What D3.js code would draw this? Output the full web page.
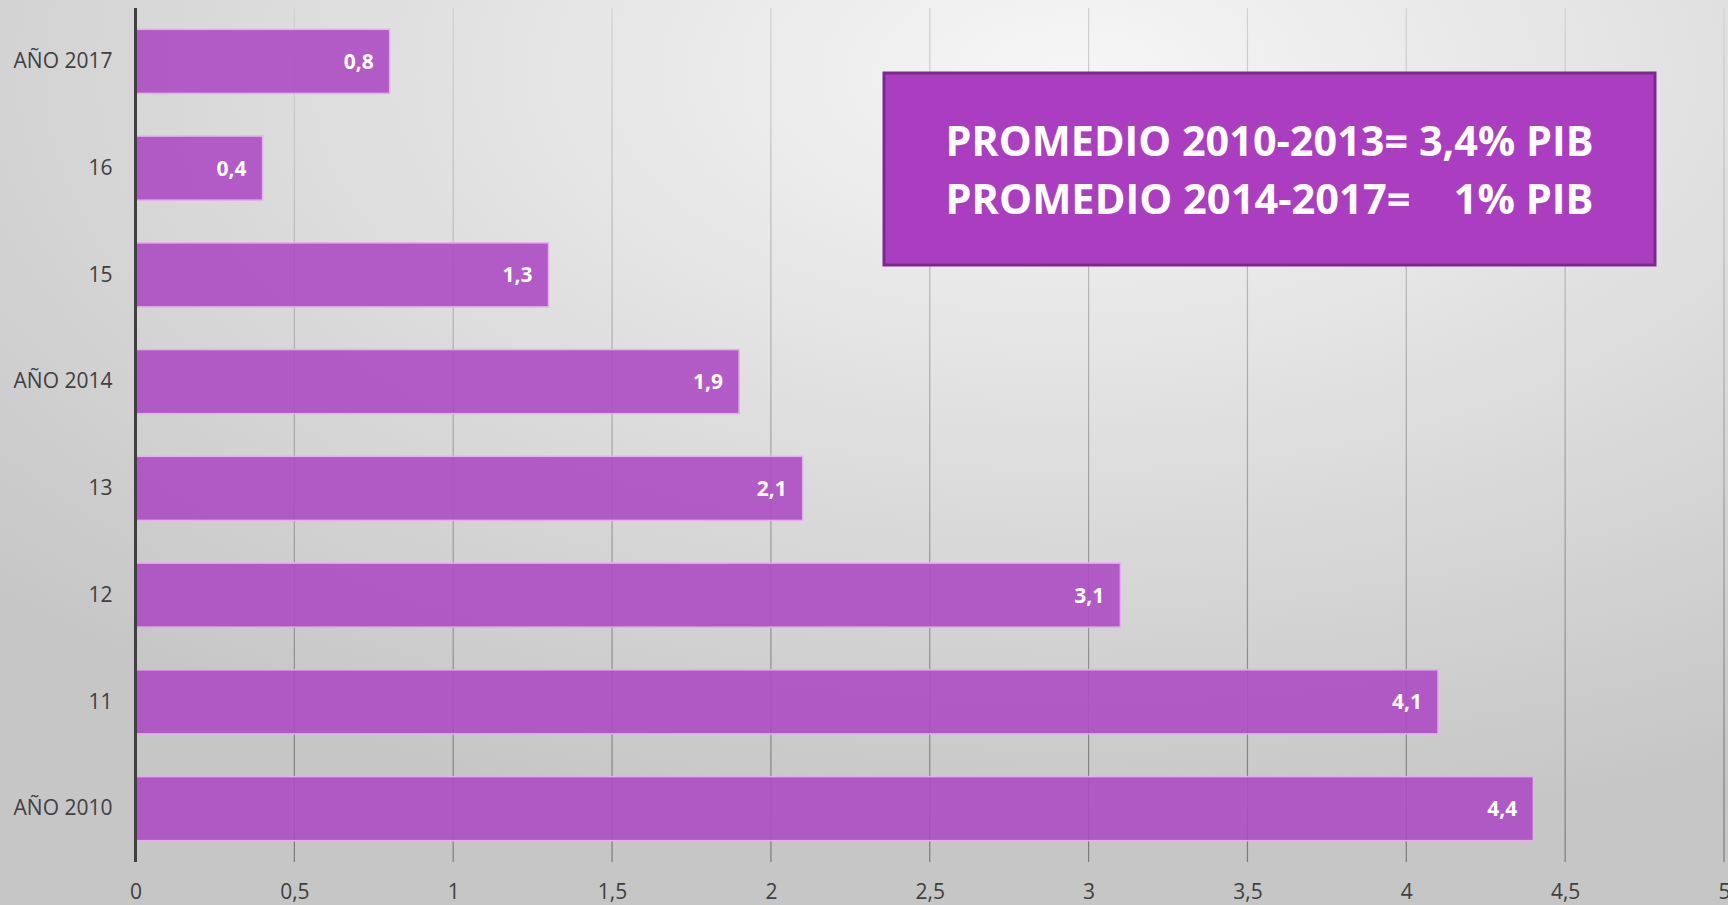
<!DOCTYPE html>
<html>
<head>
<meta charset="utf-8">
<script src="https://cdn.jsdelivr.net/npm/d3@7"></script>
<style>
  html, body { margin: 0; padding: 0; overflow: hidden; }
  svg { display: block; }
</style>
</head>
<body>
<div id="chart"></div>
<script>
const categories = ["AÑO 2017", "16", "15", "AÑO 2014", "13", "12", "11", "AÑO 2010"];
const values = [0.8, 0.4, 1.3, 1.9, 2.1, 3.1, 4.1, 4.4];
const xTicks = [0, 0.5, 1, 1.5, 2, 2.5, 3, 3.5, 4, 4.5, 5];
const boxLines = ["PROMEDIO 2010-2013= 3,4% PIB", "PROMEDIO 2014-2017=    1% PIB"];

const width = 1728, height = 905;
const margin = { top: 8, right: 4, bottom: 43, left: 135.5 };
const fmt = v => String(v).replace(".", ",");

const svg = d3.select("#chart")
    .append("svg")
    .attr("width", width)
    .attr("height", height);

const defs = svg.append("defs");
const bg = defs.append("radialGradient")
    .attr("id", "bg")
    .attr("cx", "62%").attr("cy", "8%").attr("r", "85%");
bg.append("stop").attr("offset", "0%").attr("stop-color", "#f6f6f6");
bg.append("stop").attr("offset", "100%").attr("stop-color", "#c6c6c6");

const gridGrad = defs.append("linearGradient")
    .attr("id", "gridGrad")
    .attr("gradientUnits", "userSpaceOnUse")
    .attr("x1", 0).attr("y1", margin.top)
    .attr("x2", 0).attr("y2", height - margin.bottom);
gridGrad.append("stop").attr("offset", "0%").attr("stop-color", "#d2d2d2");
gridGrad.append("stop").attr("offset", "100%").attr("stop-color", "#7a7a7a");

svg.append("rect")
    .attr("width", width)
    .attr("height", height)
    .attr("fill", "url(#bg)");

const x = d3.scaleLinear()
    .domain([0, 5])
    .range([margin.left, width - margin.right]);

const y = d3.scaleBand()
    .domain(categories)
    .range([margin.top, height - margin.bottom])
    .paddingInner(0.4)
    .paddingOuter(0.2);

// vertical gridlines
svg.append("g")
    .selectAll("line")
    .data(xTicks.slice(1))
    .join("line")
    .attr("x1", d => x(d)).attr("x2", d => x(d))
    .attr("y1", margin.top).attr("y2", height - margin.bottom)
    .attr("stroke", "url(#gridGrad)")
    .attr("stroke-width", 1.2);

// bars
const data = categories.map((c, i) => ({ name: c, value: values[i] }));

svg.append("g")
    .selectAll("rect")
    .data(data)
    .join("rect")
    .attr("x", x(0))
    .attr("y", d => y(d.name))
    .attr("width", d => x(d.value) - x(0))
    .attr("height", y.bandwidth())
    .attr("fill", "#ad4bc2")
    .attr("fill-opacity", 0.9)
    .attr("stroke", "#e3b0ec")
    .attr("stroke-width", 1.5);

svg.append("g")
    .selectAll("text")
    .data(data)
    .join("text")
    .attr("x", d => x(d.value) - 16)
    .attr("y", d => y(d.name) + y.bandwidth() / 2)
    .attr("dy", "0.36em")
    .attr("text-anchor", "end")
    .attr("fill", "#ffffff")
    .attr("font-family", "'Open Sans', sans-serif")
    .attr("font-weight", "bold")
    .attr("font-size", 21)
    .text(d => fmt(d.value));

// y axis
const yAxis = svg.append("g")
    .attr("transform", `translate(${x(0)},0)`)
    .call(d3.axisLeft(y).tickSize(0).tickPadding(23));
yAxis.select(".domain")
    .attr("d", `M0,${margin.top}V${height - margin.bottom}`)
    .attr("stroke", "#404040")
    .attr("stroke-width", 3);
yAxis.selectAll(".tick text")
    .attr("fill", "#404040")
    .attr("font-family", "'Open Sans', sans-serif")
    .attr("font-size", 21);

// x axis labels
const xAxis = svg.append("g")
    .attr("transform", `translate(0,${height - margin.bottom})`)
    .call(d3.axisBottom(x).tickValues(xTicks).tickFormat(fmt).tickSize(0).tickPadding(22));
xAxis.select(".domain").remove();
xAxis.selectAll(".tick text")
    .attr("fill", "#404040")
    .attr("font-family", "'Open Sans', sans-serif")
    .attr("font-size", 21);

// annotation box
const box = { x0: 884, y0: 73, x1: 1655, y1: 265 };
svg.append("rect")
    .attr("x", box.x0)
    .attr("y", box.y0)
    .attr("width", box.x1 - box.x0)
    .attr("height", box.y1 - box.y0)
    .attr("fill", "#aa3dc0")
    .attr("stroke", "#7b2a8c")
    .attr("stroke-width", 3);

svg.append("g")
    .selectAll("text")
    .data(boxLines)
    .join("text")
    .attr("x", (box.x0 + box.x1) / 2)
    .attr("y", (d, i) => 156 + i * 58)
    .attr("text-anchor", "middle")
    .attr("fill", "#ffffff")
    .attr("font-family", "'Open Sans', sans-serif")
    .attr("font-weight", "bold")
    .attr("font-size", 41)
    .style("white-space", "pre")
    .attr("textLength", 648)
    .attr("lengthAdjust", "spacingAndGlyphs")
    .text(d => d);
</script>
</body>
</html>
